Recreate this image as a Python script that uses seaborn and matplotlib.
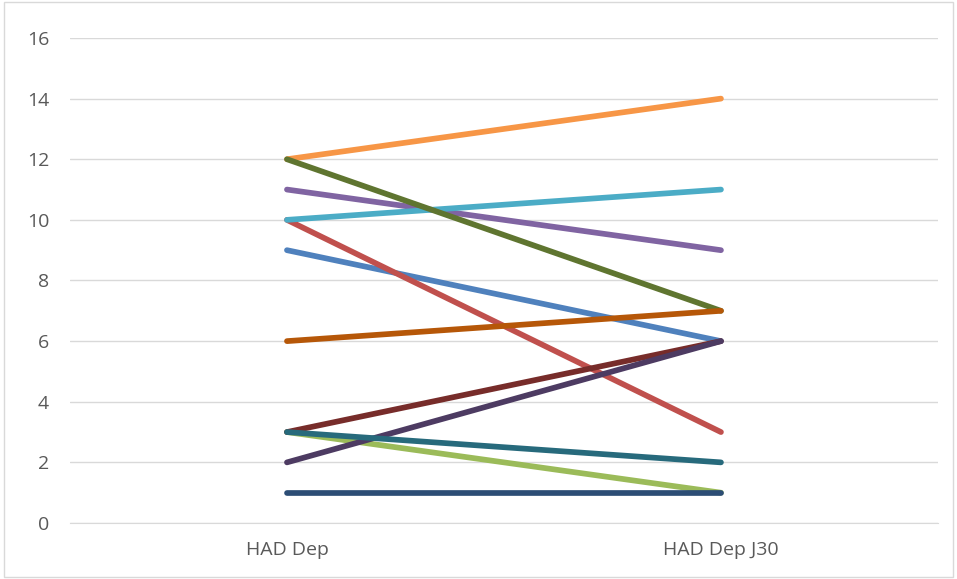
import matplotlib.pyplot as plt
import pandas as pd
import seaborn as sns

# Data
categories = ['HAD Dep', 'HAD Dep J30']
start_vals = [9, 10, 3, 11, 10, 12, 1, 3, 12, 2, 3, 6]
end_vals = [6, 3, 1, 9, 11, 14, 1, 6, 7, 6, 2, 7]
series_names = ['S%d' % (i + 1) for i in range(len(start_vals))]
colors = ['#4F81BD', '#C0504D', '#9BBB59', '#8064A2', '#4BACC6', '#F79646',
          '#2C4D75', '#772C2A', '#5F7530', '#4D3B62', '#276A7C', '#B65708']

rows = []
for name, a, b in zip(series_names, start_vals, end_vals):
    rows.append({'series': name, 'x': 0, 'value': a})
    rows.append({'series': name, 'x': 1, 'value': b})
df = pd.DataFrame(rows)

sns.set_style('white')
plt.rcParams['font.family'] = ['Open Sans', 'DejaVu Sans']

fig = plt.figure(figsize=(9.57, 5.79), dpi=100)
ax = fig.add_axes([0.0731, 0.0967, 0.907, 0.8377])

sns.lineplot(data=df, x='x', y='value', hue='series', hue_order=series_names,
             palette=colors, linewidth=4.1, legend=False, ax=ax,
             solid_capstyle='round', zorder=3)

ax.set_xlim(-0.5, 1.5)
ax.set_ylim(0, 16)
ax.set_yticks(range(0, 17, 2))
ax.set_xticks([0, 1])
ax.set_xticklabels(categories)
ax.set_xlabel('')
ax.set_ylabel('')
ax.grid(axis='y', color='#D9D9D9', linewidth=1)
ax.grid(axis='x', visible=False)
for side in ['top', 'right', 'left']:
    ax.spines[side].set_visible(False)
ax.spines['bottom'].set_color('#D9D9D9')
ax.tick_params(axis='both', length=0, labelsize=14, colors='#595959')
ax.tick_params(axis='y', pad=15)
ax.tick_params(axis='x', pad=13)

# chart border
fig.patches.append(plt.Rectangle((0.004, 0.004), 0.992, 0.992, transform=fig.transFigure,
                                 fill=False, edgecolor='#D9D9D9', linewidth=1))

fig.savefig('out.png', dpi=100)
